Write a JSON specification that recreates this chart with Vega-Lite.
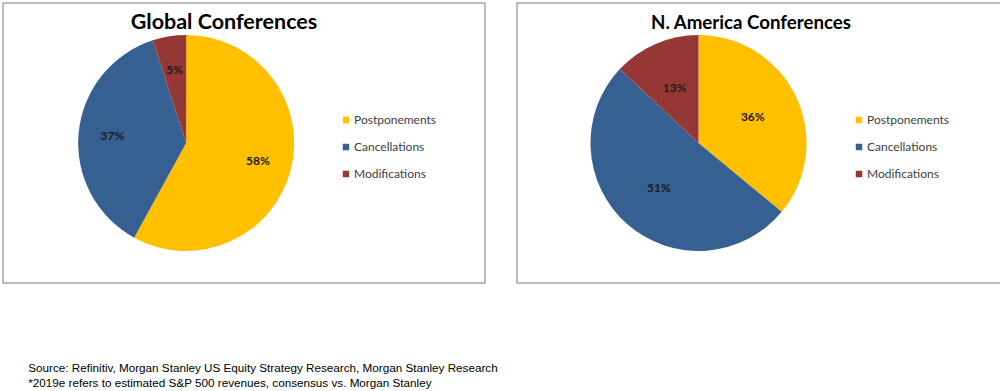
{
  "$schema": "https://vega.github.io/schema/vega-lite/v6.json",
  "padding": {"left": 2, "top": 2, "right": 0, "bottom": 0},
  "background": "white",
  "config": {
    "view": {"stroke": "#a6a6a6", "strokeWidth": 1.5},
    "font": "Lato"
  },
  "resolve": {"legend": {"color": "independent"}, "scale": {"color": "independent", "x": "independent"}},
  "title": {
    "text": "Source: Refinitiv, Morgan Stanley US Equity Strategy Research, Morgan Stanley Research",
    "subtitle": "*2019e refers to estimated S&P 500 revenues, consensus vs. Morgan Stanley",
    "orient": "bottom",
    "anchor": "start",
    "frame": "bounds",
    "offset": 79,
    "dx": 26,
    "font": "Liberation Sans",
    "fontSize": 11.7,
    "fontWeight": "normal",
    "color": "#000000",
    "subtitleFont": "Liberation Sans",
    "subtitleFontSize": 11.7,
    "subtitleColor": "#000000",
    "subtitlePadding": 4
  },
  "hconcat": [
    {
      "width": 482,
      "height": 280,
      "title": {"text": "Global Conferences", "offset": -30, "dx": -20, "frame": "group", "fontSize": 21.5, "font": "Lato", "fontWeight": "bold", "color": "#000000"},
      "data": {"values": [
        {"category": "Postponements", "pct": 58, "label": "58%", "k": 1},
        {"category": "Cancellations", "pct": 37, "label": "37%", "k": 2},
        {"category": "Modifications", "pct": 5, "label": "5%", "k": 3}
      ]},
      "encoding": {
        "theta": {"field": "pct", "type": "quantitative", "stack": true},
        "order": {"field": "k", "type": "quantitative"},
        "x": {"datum": 0.38, "type": "quantitative", "scale": {"domain": [0, 1]}, "axis": null},
        "color": {
          "field": "category", "type": "nominal",
          "scale": {"domain": ["Postponements", "Cancellations", "Modifications"], "range": ["#FFC000", "#376092", "#953735"]},
          "legend": {"orient": "none", "legendX": 337, "legendY": 111, "title": null, "symbolType": "square", "symbolSize": 42, "labelFontSize": 12, "labelFont": "Lato", "labelColor": "#404040", "rowPadding": 15, "padding": 0, "labelOffset": 2}
        }
      },
      "layer": [
        {"mark": {"type": "arc", "outerRadius": 108}},
        {"mark": {"type": "text", "radius": 74, "fontWeight": "bold", "fontSize": 12, "font": "Lato"}, "encoding": {"text": {"field": "label"}, "color": {"value": "#1a1a1a"}}}
      ]
    },
    {
      "width": 484,
      "height": 280,
      "title": {"text": "N. America Conferences", "offset": -30, "dx": -8, "frame": "group", "fontSize": 18.7, "font": "Lato", "fontWeight": "bold", "color": "#000000"},
      "data": {"values": [
        {"category": "Postponements", "pct": 36, "label": "36%", "k": 1},
        {"category": "Cancellations", "pct": 51, "label": "51%", "k": 2},
        {"category": "Modifications", "pct": 13, "label": "13%", "k": 3}
      ]},
      "encoding": {
        "theta": {"field": "pct", "type": "quantitative", "stack": true},
        "order": {"field": "k", "type": "quantitative"},
        "x": {"datum": 0.375, "type": "quantitative", "scale": {"domain": [0, 1]}, "axis": null},
        "color": {
          "field": "category", "type": "nominal",
          "scale": {"domain": ["Postponements", "Cancellations", "Modifications"], "range": ["#FFC000", "#376092", "#953735"]},
          "legend": {"orient": "none", "legendX": 336, "legendY": 111, "title": null, "symbolType": "square", "symbolSize": 42, "labelFontSize": 12, "labelFont": "Lato", "labelColor": "#404040", "rowPadding": 15, "padding": 0, "labelOffset": 2}
        }
      },
      "layer": [
        {"mark": {"type": "arc", "outerRadius": 108}},
        {"mark": {"type": "text", "radius": 60, "fontWeight": "bold", "fontSize": 12, "font": "Lato"}, "encoding": {"text": {"field": "label"}, "color": {"value": "#1a1a1a"}}}
      ]
    }
  ],
  "spacing": 30
}
